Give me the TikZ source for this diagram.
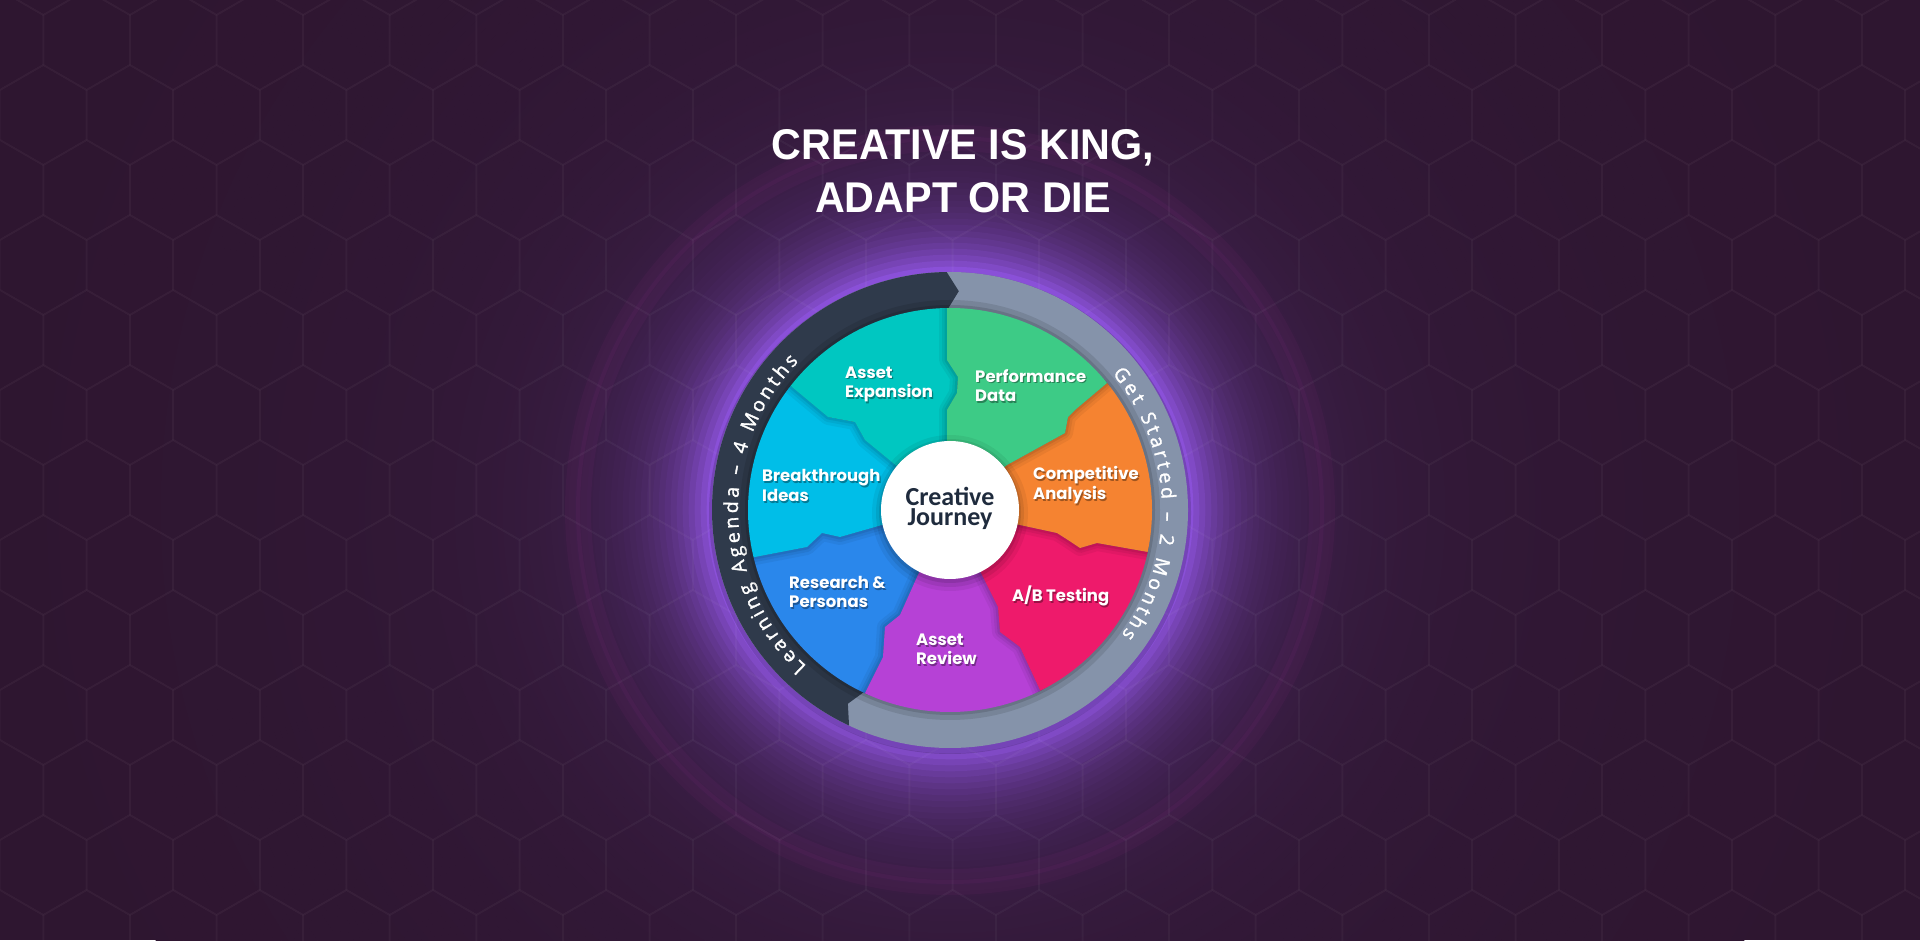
\documentclass[tikz,border=0pt]{standalone}
\usepackage{fontspec}
\usepackage{graphicx}
\newfontfamily\titlefont{Liberation Sans}
\newfontfamily\labfont{Poppins}
\newfontfamily\ringfont{Open Sans}[FakeBold=1.5]
\newfontfamily\centfont{Carlito}
\def\ringfnt{\ringfont\fontsize{19.5}{21}\selectfont}

\definecolor{bg}{HTML}{2E1630}
\definecolor{glowV}{HTML}{8A50D8}
\definecolor{halo}{HTML}{A0308F}
\definecolor{cteal}{HTML}{00C7C1}
\definecolor{cgreen}{HTML}{3DCB86}
\definecolor{corange}{HTML}{F58331}
\definecolor{cpink}{HTML}{EE1A6B}
\definecolor{cpurple}{HTML}{B641D6}
\definecolor{cblue}{HTML}{2A87EB}
\definecolor{ccyan}{HTML}{00BEE8}
\definecolor{ringdark}{HTML}{2F3A4B}
\definecolor{ringgrey}{HTML}{8593AA}
\definecolor{navy}{HTML}{1F2B3D}

\newdimen\chw
\newdimen\rtotd
\newdimen\posd
\def\spmark{_}

\makeatletter
% width of one ring character (number of pt, no unit) in \cw
\newcommand\getcw[1]{%
  \ifx#1\spmark \global\chw=5.4pt\relax\else\setbox0=\hbox{\ringfnt #1}\global\chw=\wd0\relax\fi
  \xdef\cw{\strip@pt\chw}}
\newcommand\dimnum[1]{\strip@pt#1}
\makeatother

% build a list "angle/char" for text on a circle (reading clockwise)
\newcommand\buildring[5]{% #1 list macro, #2 chars, #3 radius, #4 centre angle, #5 tracking
  \global\rtotd=0pt\relax
  \foreach \ch in {#2} {%
    \getcw{\ch}%
    \global\advance\rtotd by \chw
    \global\advance\rtotd by #5pt\relax
  }%
  \global\advance\rtotd by -#5pt\relax
  \global\posd=0pt\relax
  \gdef#1{}%
  \foreach \ch in {#2} {%
    \getcw{\ch}%
    \pgfmathsetmacro\midang{#4 + 57.29578*(\dimnum\rtotd/2 - \dimnum\posd - \cw/2)/#3}%
    \ifx\ch\spmark\else
      \ifx#1\empty \xdef#1{\midang/\ch}\else \xdef#1{#1,\midang/\ch}\fi
    \fi
    \global\advance\posd by \chw
    \global\advance\posd by #5pt\relax
  }%
}

\newcommand\seg[2]{%
  \begin{scope}
    \clip (0,0) circle (202);
    \draw[black, opacity=0.05, line width=16, line join=round] #2;
    \draw[black, opacity=0.06, line width=10, line join=round] #2;
    \draw[black, opacity=0.08, line width=5, line join=round] #2;
    \fill[#1] #2;
  \end{scope}}

\newcommand\lab[4]{%
  \node[labsh] (#1s) at (#2+1.2,#3-1.6) {#4};
  \node[lab] (#1) at (#2,#3) {#4};}

\tikzset{
  lab/.style={anchor=base west, align=left, text=white, inner sep=0pt,
    font=\labfont\bfseries\fontsize{16.5}{19.5}\selectfont},
  labsh/.style={lab, text=black, text opacity=0.35},
  hexline/.style={white, opacity=0.02, line width=2, line join=round},
  titlestyle/.style={anchor=base, align=center, text=white, inner sep=0pt,
    font=\titlefont\bfseries\fontsize{43}{53}\selectfont},
  centstyle/.style={anchor=base, align=center, text=navy, inner sep=0pt,
    font=\centfont\bfseries\fontsize{26}{20}\selectfont},
  ringch/.style={anchor=base, inner sep=0pt, text=white, font=\ringfnt}
}

\begin{document}%
\buildring{\laList}{L,e,a,r,n,i,n,g,_,A,g,e,n,d,a,_,–,_,4,_,M,o,n,t,h,s}{212}{181.5}{3.2}%
\buildring{\gsList}{G,e,t,_,S,t,a,r,t,e,d,_,–,_,2,_,M,o,n,t,h,s}{212}{2}{3.4}%
\begin{tikzpicture}[x=1pt,y=1pt]
\useasboundingbox (0,0) rectangle (1920,940);
\fill[bg] (0,0) rectangle (1920,940);

\begin{scope}
\clip (0,0) rectangle (1920,940);
% glow around the wheel
\foreach \r in {900,894,...,234} {
  \pgfmathsetmacro\gt{100*(0.85*exp(-(\r-240)/45)+0.15*exp(-(\r-240)/200))}
  \pgfmathsetmacro\gtt{min(100,\gt)}
  \draw[glowV!\gtt!bg, line width=6.6] (950,430) circle (\r);
}
\draw[halo, opacity=0.07, line width=26] (950,430) circle (372);
\draw[halo, opacity=0.08, line width=4] (950,430) circle (372);

% hexagon grid
\foreach \i in {0,...,23} {
  \foreach \j in {0,...,13} {
    \pgfmathsetmacro\cx{\i*86.6+mod(\j,2)*43.3}
    \pgfmathsetmacro\cy{\j*75}
    \draw[hexline] (\cx,\cy) +(30:50) -- +(90:50) -- +(150:50) -- +(210:50) -- +(270:50) -- +(330:50) -- cycle;
  }
}
\end{scope}

\begin{scope}[shift={(950,430)}]
  % outer ring
  \fill[black, opacity=0.15] (0,-3) circle (241);
  \fill[ringgrey] (0,0) circle (238);
  \fill[ringdark] (90.8:238) arc[start angle=90.8, end angle=244.9, radius=238]
     -- (242.2:219) -- (244.9:200) arc[start angle=244.9, end angle=90.8, radius=200]
     -- (87.7:219) -- cycle;
  \foreach \a/\ch [count=\k] in \laList {\node[ringch, rotate=\a-90] (la\k) at (\a:212) {\ch};}
  \foreach \a/\ch [count=\k] in \gsList {\node[ringch, rotate=\a-90] (gs\k) at (\a:212) {\ch};}
  % wheel shadow on ring
  \draw[black, opacity=0.10, line width=10] (0,0) circle (205);
  \draw[black, opacity=0.12, line width=4] (0,0) circle (203);

  % segments (bottom layer first)
  \seg{cblue}{(0,0) -- (-68,-15) -- (-110,-27) -- (-128,-23) -- (-143,-37) -- (-195,-47) -- (-233,-56) -- (-101,-217) -- (-85,-183) -- (-67,-147) -- (-65,-117) -- (-50,-105) -- (-33,-67) -- cycle}
  \seg{cpurple}{(0,0) -- (-33,-67) -- (-50,-105) -- (-65,-117) -- (-67,-147) -- (-85,-183) -- (-101,-217) -- (107,-215) -- (90,-180) -- (70,-137) -- (50,-122) -- (48,-97) -- (32,-65) -- cycle}
  \seg{ccyan}{(0,0) -- (-57,47) -- (-85,70) -- (-95,88) -- (-122,93) -- (-158,123) -- (-189,148) -- (-233,-56) -- (-195,-47) -- (-143,-37) -- (-128,-23) -- (-110,-27) -- (-68,-15) -- cycle}
  \seg{cpink}{(0,0) -- (32,-65) -- (48,-97) -- (50,-122) -- (70,-137) -- (90,-180) -- (107,-215) -- (235,-50) -- (198,-42) -- (147,-33) -- (130,-38) -- (118,-30) -- (107,-23) -- (70,-15) -- cycle}
  \seg{cteal}{(0,0) -- (-3,70) -- (-3,100) -- (7,117) -- (8,133) -- (-3,150) -- (-3,240) -- (-189,148) -- (-158,123) -- (-122,93) -- (-95,88) -- (-85,70) -- (-57,47) -- cycle}
  \seg{corange}{(0,0) -- (70,-15) -- (107,-23) -- (118,-30) -- (130,-38) -- (147,-33) -- (198,-42) -- (235,-50) -- (187,152) -- (157,127) -- (125,100) -- (118,93) -- (115,77) -- (57,45) -- cycle}
  \seg{cgreen}{(0,0) -- (57,45) -- (115,77) -- (118,93) -- (125,100) -- (157,127) -- (187,152) -- (-3,240) -- (-3,150) -- (8,133) -- (7,117) -- (-3,100) -- (-3,70) -- cycle}

  % centre disc
  \fill[black, opacity=0.06] (0,-3) circle (78);
  \fill[black, opacity=0.08] (0,-3) circle (74);
  \fill[black, opacity=0.10] (0,-2) circle (71);
  \fill[white] (0,0) circle (69);
\end{scope}

% labels (position = baseline of last line)
\lab{ae}{845}{542.2}{Asset\\Expansion}
\lab{pd}{975}{538.3}{Performance\\Data}
\lab{ca}{1033}{440.5}{Competitive\\Analysis}
\lab{bi}{762}{438.5}{Breakthrough\\Ideas}
\lab{rp}{789}{332}{Research \&\\Personas}
\lab{ar}{916}{275}{Asset\\Review}
\lab{ab}{1012}{338.5}{A/B Testing}

\node[centstyle] (cj) at (950,414.5) {Creative\\Journey};

\node[titlestyle] (title) at (963,727) {\scalebox{0.96}[1]{CREATIVE IS KING,}\\\scalebox{0.96}[1]{ADAPT OR DIE}};
\end{tikzpicture}
\end{document}
